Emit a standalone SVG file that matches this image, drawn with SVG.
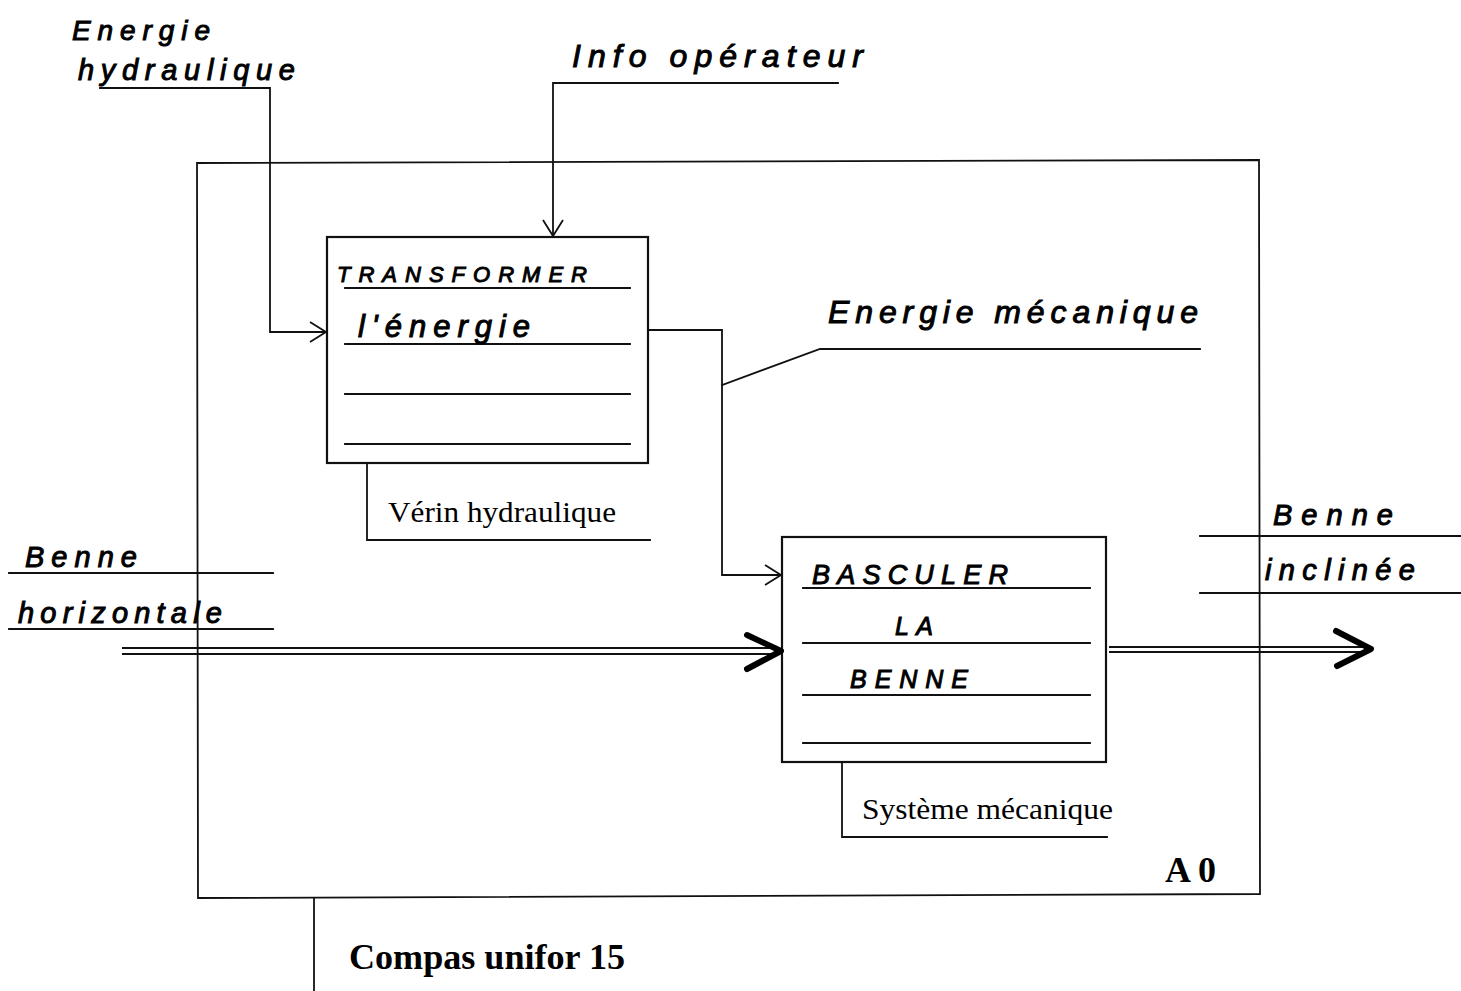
<svg xmlns="http://www.w3.org/2000/svg" width="1461" height="991" viewBox="0 0 1461 991">
<defs>
<style>
.ln{fill:none;stroke:#111;stroke-width:1.8;stroke-linecap:square}
.box{fill:none;stroke:#111;stroke-width:2.2}
.dbl{fill:none;stroke:#111;stroke-width:2}
.bold{fill:none;stroke:#000;stroke-width:6;stroke-linecap:round;stroke-linejoin:round}
.hw{font-family:"Liberation Sans",Arial,sans-serif;font-style:italic;fill:#000;stroke:#000;stroke-width:1}
.tm{font-family:"Liberation Serif","Times New Roman",serif;fill:#000}
.tb{font-family:"Liberation Serif","Times New Roman",serif;font-weight:bold;fill:#000}
</style>
<marker id="open" markerUnits="userSpaceOnUse" markerWidth="22" markerHeight="24" refX="16" refY="10" orient="auto" overflow="visible">
<path d="M0,0 L16,10 L0,20" fill="none" stroke="#111" stroke-width="1.8"/>
</marker>
</defs>
<rect width="1461" height="991" fill="#fff"/>

<g id="frame-A0">
<path class="ln" d="M197,163 L1259,160 L1260,894 L198,898 Z"/>
<text class="tb" x="1165" y="882" font-size="36">A 0</text>
<path class="ln" d="M314,898 V991"/>
<text class="tb" x="349" y="969" font-size="35" textLength="276" lengthAdjust="spacingAndGlyphs">Compas unifor 15</text>
</g>

<g id="node-transformer">
<rect class="box" x="327" y="237" width="321" height="226"/>
<path class="ln" d="M345,288 H630 M345,344 H630 M345,394 H630 M345,444 H630"/>
<text class="hw" x="337" y="282" font-size="22" textLength="250" lengthAdjust="spacing">TRANSFORMER</text>
<text class="hw" x="358" y="337" font-size="31" textLength="172" lengthAdjust="spacing">l'énergie</text>
<path class="ln" d="M367,463 V540 H650"/>
<text class="tm" x="388" y="522" font-size="29" textLength="228" lengthAdjust="spacingAndGlyphs">Vérin hydraulique</text>
</g>

<g id="node-basculer">
<rect class="box" x="782" y="537" width="324" height="225"/>
<path class="ln" d="M803,588 H1090 M803,643 H1090 M803,695 H1090 M803,743 H1090"/>
<text class="hw" x="812" y="584" font-size="27" textLength="196" lengthAdjust="spacing">BASCULER</text>
<text class="hw" x="895" y="635" font-size="25" textLength="38" lengthAdjust="spacing">LA</text>
<text class="hw" x="850" y="688" font-size="25" textLength="118" lengthAdjust="spacing">BENNE</text>
<path class="ln" d="M842,762 V837 H1107"/>
<text class="tm" x="862" y="819" font-size="29" textLength="251" lengthAdjust="spacingAndGlyphs">Système mécanique</text>
</g>

<g id="labels">
<text class="hw" x="72" y="40" font-size="28" textLength="138" lengthAdjust="spacing">Energie</text>
<text class="hw" x="78" y="80" font-size="29" textLength="217" lengthAdjust="spacing">hydraulique</text>
<text class="hw" x="572" y="67" font-size="32" textLength="291" lengthAdjust="spacing">Info opérateur</text>
<text class="hw" x="828" y="323" font-size="32" textLength="370" lengthAdjust="spacing">Energie mécanique</text>
<text class="hw" x="25" y="567" font-size="29" textLength="112" lengthAdjust="spacing">Benne</text>
<text class="hw" x="18" y="623" font-size="29" textLength="204" lengthAdjust="spacing">horizontale</text>
<text class="hw" x="1273" y="525" font-size="29" textLength="120" lengthAdjust="spacing">Benne</text>
<text class="hw" x="1265" y="580" font-size="29" textLength="150" lengthAdjust="spacing">inclinée</text>
</g>

<g id="connectors">
<path class="ln" d="M100,88 H270 V332 H326" marker-end="url(#open)"/>
<path class="ln" d="M838,83 H553 V236" marker-end="url(#open)"/>
<path class="ln" d="M648,330 H722 V575 H781" marker-end="url(#open)"/>
<path class="ln" d="M722,385 L820,349 H1200"/>
<path class="ln" d="M9,573 H273 M9,629 H273 M1200,536 H1461 M1200,593 H1461"/>
<path class="dbl" d="M122,648 H778 M122,654 H778"/>
<path class="bold" d="M747,635 L781,651 L747,669"/>
<path class="dbl" d="M1109,647 H1366 M1109,652 H1366"/>
<path class="bold" d="M1336,631 L1371,649 L1337,666"/>
</g>
</svg>
